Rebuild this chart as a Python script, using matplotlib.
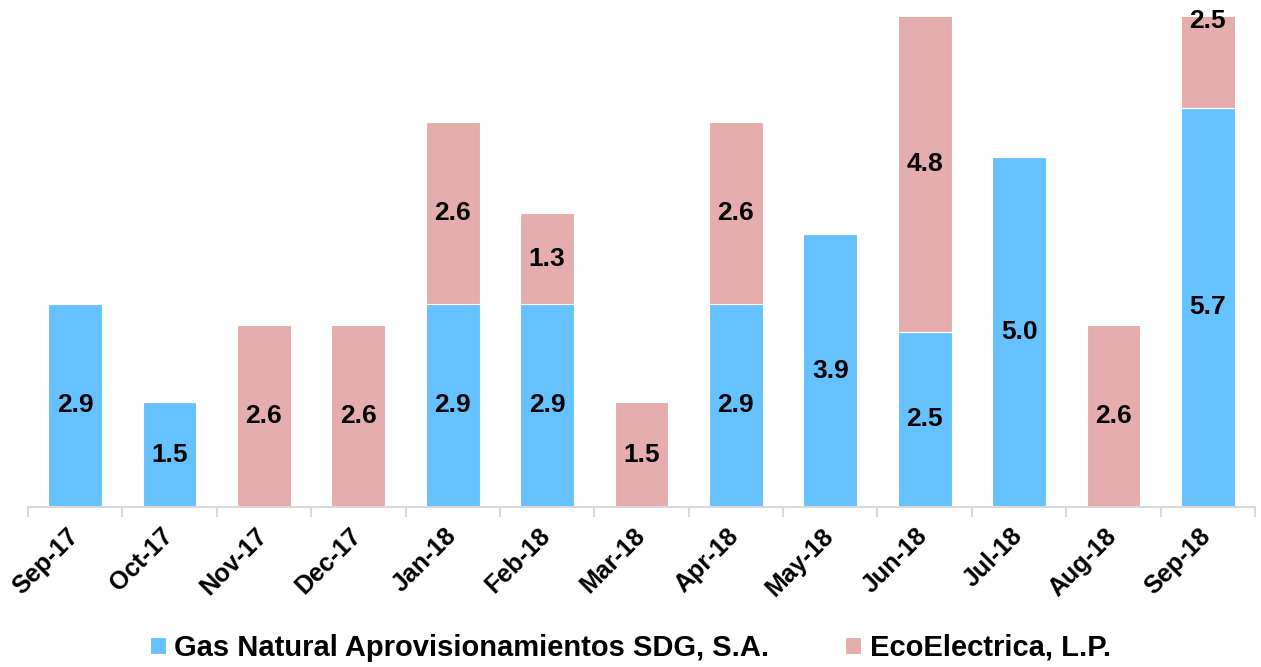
import numpy as np
import matplotlib
matplotlib.use("Agg")
import matplotlib.pyplot as plt
from matplotlib.transforms import ScaledTranslation

months = ["Sep-17", "Oct-17", "Nov-17", "Dec-17", "Jan-18", "Feb-18", "Mar-18",
          "Apr-18", "May-18", "Jun-18", "Jul-18", "Aug-18", "Sep-18"]
gas_natural = [2.9, 1.5, 0.0, 0.0, 2.9, 2.9, 0.0, 2.9, 3.9, 2.5, 5.0, 0.0, 5.7]
ecoelectrica = [0.0, 0.0, 2.6, 2.6, 2.6, 1.3, 1.5, 2.6, 0.0, 4.8, 0.0, 2.6, 2.5]

BLUE = "#66c2ff"
PINK = "#e5adad"

plt.rcParams["font.family"] = ["Liberation Sans", "DejaVu Sans"]

fig = plt.figure(figsize=(12.61, 6.67), dpi=100)
ax = fig.add_axes([28 / 1261, 1 - 507 / 667, (1255 - 28) / 1261, (507 - 17) / 667])

x = np.arange(len(months))
gas = np.array(gas_natural)
eco = np.array(ecoelectrica)

ax.bar(x, gas, width=0.57, color=BLUE, edgecolor="white", linewidth=0.8,
       label="Gas Natural Aprovisionamientos SDG, S.A.")
ax.bar(x, eco, width=0.57, bottom=gas, color=PINK, edgecolor="white", linewidth=0.8,
       label="EcoElectrica, L.P.")

# value labels at the middle of each segment
for i in range(len(months)):
    if gas[i] > 0:
        ax.text(x[i], gas[i] / 2, f"{gas[i]:.1f}", ha="center", va="center",
                fontsize=19, fontweight="bold")
    if eco[i] > 0:
        ax.text(x[i], gas[i] + eco[i] / 2, f"{eco[i]:.1f}", ha="center", va="center",
                fontsize=19, fontweight="bold", clip_on=False)

ax.set_xlim(-0.5, len(months) - 0.5)
ax.set_ylim(0, 7)

for s in ["top", "right", "left"]:
    ax.spines[s].set_visible(False)
ax.spines["bottom"].set_color("#d9d9d9")
ax.spines["bottom"].set_linewidth(1.5)
ax.set_yticks([])

ax.set_xticks(x)
ax.set_xticklabels(months, rotation=45, ha="right", rotation_mode="anchor",
                   fontsize=18, fontweight="bold")
ax.tick_params(axis="x", which="major", length=0, pad=12)
shift = ScaledTranslation(-9 / 100, 0, fig.dpi_scale_trans)
for lbl in ax.get_xticklabels():
    lbl.set_transform(lbl.get_transform() + shift)
ax.set_xticks(np.arange(len(months) + 1) - 0.5, minor=True)
ax.tick_params(axis="x", which="minor", length=7, width=1.5, color="#d9d9d9")

fig.legend(loc="center", bbox_to_anchor=(0.5, 1 - 648 / 667), ncol=2, frameon=False,
           prop={"size": 21, "weight": "bold"}, handlelength=0.55, handleheight=0.55,
           handletextpad=0.3, columnspacing=2.6)

fig.savefig("out.png", dpi=100)
